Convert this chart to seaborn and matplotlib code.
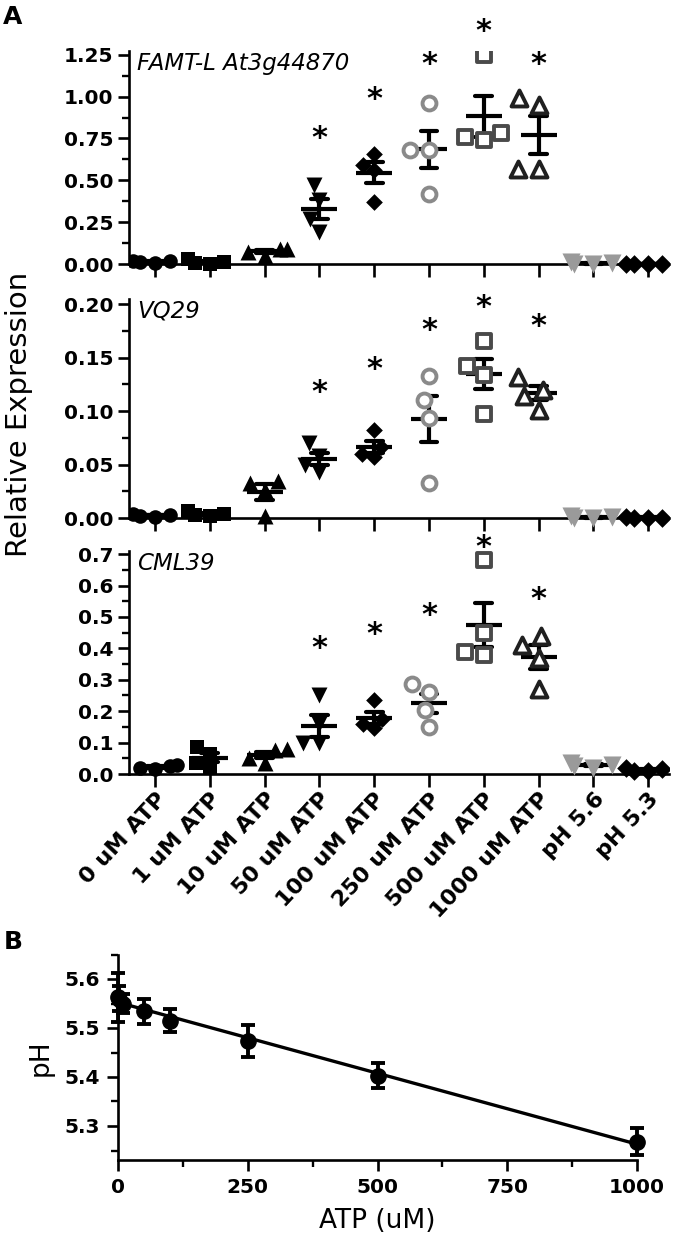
import warnings
import numpy as np
import pandas as pd
import matplotlib
matplotlib.use("Agg")
import matplotlib.pyplot as plt
import matplotlib.transforms as mtransforms
import seaborn as sns
from matplotlib.ticker import MultipleLocator, FormatStrFormatter

warnings.filterwarnings("ignore")

# ==============================
# DATA
# ==============================
conditions = ["0 uM ATP", "1 uM ATP", "10 uM ATP", "50 uM ATP", "100 uM ATP",
              "250 uM ATP", "500 uM ATP", "1000 uM ATP", "pH 5.6", "pH 5.3"]

famt = [
    [0.010, 0.005, 0.015, 0.020],
    [0.000, 0.005, 0.010, 0.030],
    [0.050, 0.090, 0.070, 0.090],
    [0.470, 0.380, 0.270, 0.190],
    [0.660, 0.590, 0.560, 0.370],
    [0.960, 0.680, 0.680, 0.420],
    [1.250, 0.780, 0.760, 0.740],
    [0.990, 0.950, 0.570, 0.570],
    [0.005, 0.000, 0.010, 0.000],
    [0.002, 0.000, 0.001, 0.000],
]
vq29 = [
    [0.002, 0.003, 0.001, 0.004],
    [0.002, 0.004, 0.003, 0.007],
    [0.035, 0.033, 0.026, 0.002],
    [0.070, 0.058, 0.050, 0.043],
    [0.082, 0.066, 0.060, 0.057],
    [0.133, 0.110, 0.094, 0.033],
    [0.166, 0.142, 0.134, 0.097],
    [0.132, 0.120, 0.114, 0.101],
    [0.000, 0.002, 0.001, 0.000],
    [0.000, 0.000, 0.001, 0.000],
]
cml39 = [
    [0.025, 0.020, 0.030, 0.015],
    [0.085, 0.065, 0.035, 0.020],
    [0.080, 0.075, 0.050, 0.035],
    [0.250, 0.160, 0.100, 0.100],
    [0.235, 0.175, 0.160, 0.145],
    [0.285, 0.260, 0.205, 0.150],
    [0.680, 0.450, 0.390, 0.380],
    [0.440, 0.410, 0.370, 0.270],
    [0.030, 0.035, 0.020, 0.025],
    [0.010, 0.015, 0.020, 0.010],
]

# significance stars (50 - 1000 uM ATP)
star_conditions = conditions[3:8]
famt_stars = [0.78, 1.01, 1.22, 1.42, 1.22]
vq29_stars = [0.122, 0.144, 0.180, 0.202, 0.184]
cml39_stars = [0.414, 0.461, 0.520, 0.737, 0.573]

# panel B
atp_conc = [0, 1, 10, 50, 100, 250, 500, 1000]
ph_mean = [5.563, 5.560, 5.550, 5.534, 5.515, 5.473, 5.403, 5.268]
ph_sem = [0.050, 0.025, 0.020, 0.026, 0.024, 0.033, 0.026, 0.027]

# ==============================
# STYLE
# ==============================
sns.set_style("ticks")
plt.rcParams["font.family"] = ["DejaVu Sans"]
plt.rcParams.update({
    "axes.linewidth": 1.9,
    "axes.edgecolor": "black",
    "axes.labelcolor": "black",
    "text.color": "black",
    "xtick.color": "black",
    "ytick.color": "black",
})

styles = [
    dict(marker="o", face="black", edge="black", lw=0, size=10.5, open=False),
    dict(marker="s", face="black", edge="black", lw=0, size=10, open=False),
    dict(marker="^", face="black", edge="black", lw=0, size=11.5, open=False),
    dict(marker="v", face="black", edge="black", lw=0, size=11.5, open=False),
    dict(marker="D", face="black", edge="black", lw=0, size=8.5, open=False),
    dict(marker="o", face="white", edge="#8a8a8a", lw=2.8, size=10, open=True),
    dict(marker="s", face="white", edge="#4a4a4a", lw=2.8, size=10, open=True),
    dict(marker="^", face="white", edge="#202020", lw=2.8, size=11.5, open=True),
    dict(marker="v", face="#9a9a9a", edge="#9a9a9a", lw=0, size=13, open=False),
    dict(marker="D", face="black", edge="black", lw=0, size=9.5, open=False),
]

W, H = 681, 1246
fig = plt.figure(figsize=(W / 100, H / 100), dpi=100)


def fig_px(x, y):
    return x / W, 1 - y / H


def px_axes(left, top, right, bottom):
    return fig.add_axes([left / W, 1 - bottom / H, (right - left) / W, (bottom - top) / H])


def draw_panel(top_px, zero_px, values, stars, gene, ytop, major, minor, fmt, show_labels):
    pad_px = 12
    ybot = -pad_px * ytop / (zero_px - top_px)
    ax = px_axes(129, top_px, 669, zero_px + pad_px)
    df = pd.DataFrame({"condition": np.repeat(conditions, 4),
                       "value": np.concatenate(values)})
    for cond, st in zip(conditions, styles):
        sub = df[df["condition"] == cond]
        n_before = len(ax.collections)
        sns.swarmplot(data=sub, x="condition", y="value", order=conditions,
                      marker=st["marker"], color=st["face"], edgecolor=st["edge"],
                      linewidth=st["lw"], size=st["size"], ax=ax, zorder=3)
        if st["open"] and len(ax.collections) > n_before:
            ax.collections[-1].set_facecolor("none")
    # mean +/- SEM
    sns.pointplot(data=df, x="condition", y="value", order=conditions,
                  errorbar="se", capsize=0.31, color="black", marker="_",
                  markersize=26, markeredgewidth=3, linestyle="none",
                  err_kws={"linewidth": 3}, ax=ax)
    # asterisk glyph sits high in its text box -> shift down a little
    star_tr = mtransforms.offset_copy(ax.transData, fig=fig, y=-5, units="dots")
    for cond, h in zip(star_conditions, stars):
        ax.text(conditions.index(cond), h, "*", ha="center", va="center",
                fontsize=22, fontweight="bold", transform=star_tr, clip_on=False)
    ax.set_xlim(-0.475, 9.38)
    ax.set_ylim(ybot, ytop)
    ax.spines["bottom"].set_position(("data", 0))
    ax.spines["left"].set_bounds(0, ytop)
    ax.set_yticks(np.arange(0, ytop + 1e-9, major))
    ax.yaxis.set_minor_locator(MultipleLocator(minor))
    ax.yaxis.set_major_formatter(FormatStrFormatter(fmt))
    ax.set_xlabel("")
    ax.set_ylabel("")
    ax.tick_params(axis="y", which="major", length=8, width=1.9, labelsize=14.5, pad=3.5)
    ax.tick_params(axis="y", which="minor", length=5, width=1.7)
    ax.tick_params(axis="x", which="major", length=9, width=1.9, labelsize=16, pad=2)
    for lbl in ax.get_yticklabels():
        lbl.set_fontweight("bold")
    if show_labels:
        ax.set_xticks(range(len(conditions)))
        ax.set_xticklabels(conditions, rotation=47, ha="right", rotation_mode="anchor",
                           fontweight="bold")
    else:
        ax.set_xticklabels([])
    fig.text(*fig_px(137, top_px + 1), gene, ha="left", va="top",
             fontsize=16.5, style="italic")
    sns.despine(ax=ax)
    return ax


# ==============================
# PANEL A
# ==============================
ax1 = draw_panel(51.4, 264, famt, famt_stars, "FAMT-L At3g44870", 1.27, 0.25, 0.125, "%.2f", False)
ax2 = draw_panel(299, 518, vq29, vq29_stars, "VQ29", 0.205, 0.05, 0.025, "%.2f", False)
ax3 = draw_panel(551, 774, cml39, cml39_stars, "CML39", 0.71, 0.1, 0.05, "%.1f", True)

fig.text(*fig_px(19, 414), "Relative Expression", rotation=90,
         ha="center", va="center", fontsize=21)

# ==============================
# PANEL B
# ==============================
axb = px_axes(118, 954.5, 637, 1160.3)
sns.regplot(x=np.array(atp_conc), y=np.array(ph_mean), ci=None, scatter=False,
            color="black", line_kws={"linewidth": 2.4}, ax=axb)
axb.errorbar(atp_conc, ph_mean, yerr=ph_sem, fmt="o", color="black", ms=11,
             capsize=5, elinewidth=2.8, capthick=2.8, clip_on=False, zorder=4)
axb.set_xlim(0, 1000)
axb.set_ylim(5.23, 5.65)
axb.xaxis.set_major_locator(MultipleLocator(250))
axb.xaxis.set_minor_locator(MultipleLocator(125))
axb.yaxis.set_major_locator(MultipleLocator(0.1))
axb.yaxis.set_minor_locator(MultipleLocator(0.05))
axb.tick_params(which="major", length=8, width=1.9, labelsize=14.5, pad=5)
axb.tick_params(which="minor", length=5, width=1.7)
for lbl in axb.get_xticklabels() + axb.get_yticklabels():
    lbl.set_fontweight("bold")
axb.set_xlabel("ATP (uM)", fontsize=19, labelpad=8)
axb.set_ylabel("pH", fontsize=19, labelpad=8)
sns.despine(ax=axb)

fig.text(*fig_px(13, 17), "A", fontsize=18, fontweight="bold", ha="center", va="center")
fig.text(*fig_px(13, 942), "B", fontsize=18, fontweight="bold", ha="center", va="center")

fig.savefig("out.png", dpi=100)
